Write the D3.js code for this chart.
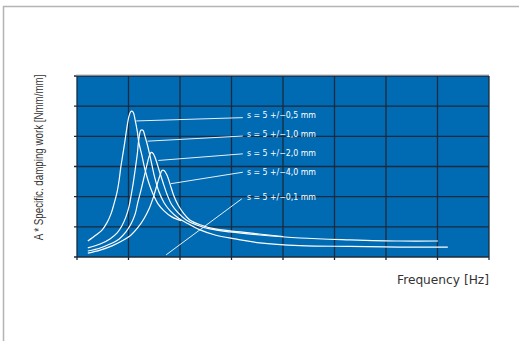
<!DOCTYPE html>
<html><head><meta charset="utf-8">
<script src="https://cdn.jsdelivr.net/npm/d3@7"></script>
<style>html,body{margin:0;padding:0;background:#fff;}svg{display:block;}</style>
</head><body>
<script>
// ---- data (grid units: frequency 0..8, damping work 0..6) ----
const xTicks = [0,1,2,3,4,5,6,7,8];
const yTicks = [0,1,2,3,4,5,6];
const seriesNames = ["s = 5 +/\u22120,5 mm","s = 5 +/\u22121,0 mm","s = 5 +/\u22122,0 mm","s = 5 +/\u22124,0 mm","s = 5 +/\u22120,1 mm"];

const freqA = [0.21,0.37,0.49,0.58,0.66,0.72,0.78,0.82,0.85,0.89,0.93,0.97,1.01,1.05,1.09,1.13,1.17,1.20,1.26,1.32,1.40,1.48,1.57,1.69,1.84,2.02];
const workA = [0.53,0.73,0.90,1.13,1.43,1.77,2.17,2.57,2.97,3.40,3.83,4.30,4.67,4.83,4.80,4.53,4.17,3.80,3.37,2.90,2.43,2.07,1.77,1.53,1.33,1.20];

const freqB = [0.21,0.45,0.64,0.78,0.87,0.95,1.01,1.05,1.09,1.13,1.17,1.20,1.24,1.28,1.32,1.38,1.44,1.51,1.59,1.69,1.81,1.96,2.16,2.39,2.68,3.07,3.55,4.33,5.30,6.27,7.20];
const workB = [0.30,0.43,0.60,0.80,1.03,1.33,1.67,2.03,2.43,2.90,3.40,3.90,4.20,4.20,4.00,3.63,3.17,2.63,2.17,1.80,1.53,1.30,1.10,0.90,0.73,0.60,0.47,0.38,0.35,0.33,0.33];

const freqC = [0.21,0.45,0.64,0.82,0.95,1.05,1.13,1.18,1.24,1.30,1.36,1.40,1.44,1.48,1.53,1.59,1.67,1.75,1.84,1.96,2.12,2.31,2.58,2.97,3.55,4.33,5.30,6.27,7.01];
const workC = [0.20,0.30,0.43,0.60,0.83,1.10,1.43,1.80,2.20,2.63,3.07,3.33,3.47,3.43,3.23,2.90,2.47,2.07,1.73,1.47,1.23,1.07,0.93,0.83,0.73,0.63,0.57,0.53,0.53];

const freqD = [0.21,0.45,0.68,0.87,1.05,1.18,1.30,1.40,1.48,1.55,1.61,1.65,1.69,1.75,1.81,1.88,1.96,2.06,2.19,2.39,2.68,3.17,4.00];
const workD = [0.13,0.23,0.37,0.53,0.73,0.97,1.27,1.60,1.97,2.37,2.70,2.87,2.87,2.70,2.40,2.03,1.73,1.47,1.23,1.07,0.93,0.83,0.68];

// leader lines: from point on curve to label
const leaderFromX = [1.15,1.37,1.58,1.82,1.73];
const leaderFromY = [4.51,3.84,3.20,2.43,0.07];
const leaderToX   = [3.22,3.22,3.22,3.22,3.20];
const leaderToY   = [4.62,4.01,3.42,2.81,1.93];
const labelX = [3.30,3.30,3.30,3.30,3.30];
const labelY = [4.70,4.07,3.43,2.80,1.97];

// ---- drawing ----
const W = 519, H = 341;
const svg = d3.select("body").append("svg").attr("width", W).attr("height", H);

// outer frame
svg.append("path").attr("d", `M3.5,${H} V6.5 H${W}`).attr("fill","none").attr("stroke","#b4b4b4").attr("stroke-width",1.5);

const pL = 77, pR = 489, pT = 76, pB = 257;
const x = d3.scaleLinear().domain([0,8]).range([pL,pR]);
const y = d3.scaleLinear().domain([0,6]).range([pB,pT]);

svg.append("rect").attr("x",pL).attr("y",pT).attr("width",pR-pL).attr("height",pB-pT).attr("fill","#006ab3");

// grid
const g = svg.append("g");
g.selectAll(".vg").data(xTicks).join("line")
  .attr("x1",d=>x(d)).attr("x2",d=>x(d)).attr("y1",pT).attr("y2",pB+3)
  .attr("stroke","#1b2a3c").attr("stroke-width",1.3);
g.selectAll(".hg").data(yTicks).join("line")
  .attr("y1",d=>y(d)).attr("y2",d=>y(d)).attr("x1",pL-3).attr("x2",pR)
  .attr("stroke","#1b2a3c").attr("stroke-width",1.3);
// top light edge
svg.append("line").attr("x1",pL-1).attr("x2",pR).attr("y1",pT-1).attr("y2",pT-1).attr("stroke","#b0b0b0").attr("stroke-width",1);

// curves
const line = d3.line().x(d=>x(d[0])).y(d=>y(d[1])).curve(d3.curveCatmullRom.alpha(0.5));
const curves = [d3.zip(freqA,workA), d3.zip(freqB,workB), d3.zip(freqC,workC), d3.zip(freqD,workD)];
svg.append("g").selectAll("path").data(curves).join("path")
  .attr("d", line).attr("fill","none").attr("stroke","#ffffff").attr("stroke-width",1.2);

// leader lines
svg.append("g").selectAll("line").data(d3.range(5)).join("line")
  .attr("x1",i=>x(leaderFromX[i])).attr("y1",i=>y(leaderFromY[i]))
  .attr("x2",i=>x(leaderToX[i])).attr("y2",i=>y(leaderToY[i]))
  .attr("stroke","#e8f0f8").attr("stroke-width",1);

// labels
svg.append("g").selectAll("text").data(d3.range(5)).join("text")
  .attr("x",i=>x(labelX[i])).attr("y",i=>y(labelY[i]))
  .attr("dy","0.35em")
  .attr("fill","#ffffff").attr("font-family","'DejaVu Sans Condensed','Liberation Sans Narrow',sans-serif")
  .attr("font-size",8).attr("textLength",69).attr("lengthAdjust","spacingAndGlyphs")
  .text(i=>seriesNames[i]);

// axis titles
svg.append("text").attr("transform",`translate(43,${(75+240)/2}) rotate(-90) scale(0.75,1)`)
  .attr("text-anchor","middle").attr("fill","#333").attr("font-size",13)
  .attr("font-family","'Liberation Sans','Arial',sans-serif")
  .text("A * Specific. damping work [Nmm/mm]");

svg.append("text").attr("x",pR).attr("y",284).attr("text-anchor","end")
  .attr("fill","#333").attr("font-size",13)
  .attr("font-family","'DejaVu Sans','Noto Sans',sans-serif")
  .attr("textLength",92).attr("lengthAdjust","spacingAndGlyphs")
  .text("Frequency [Hz]");
</script>
</body></html>
